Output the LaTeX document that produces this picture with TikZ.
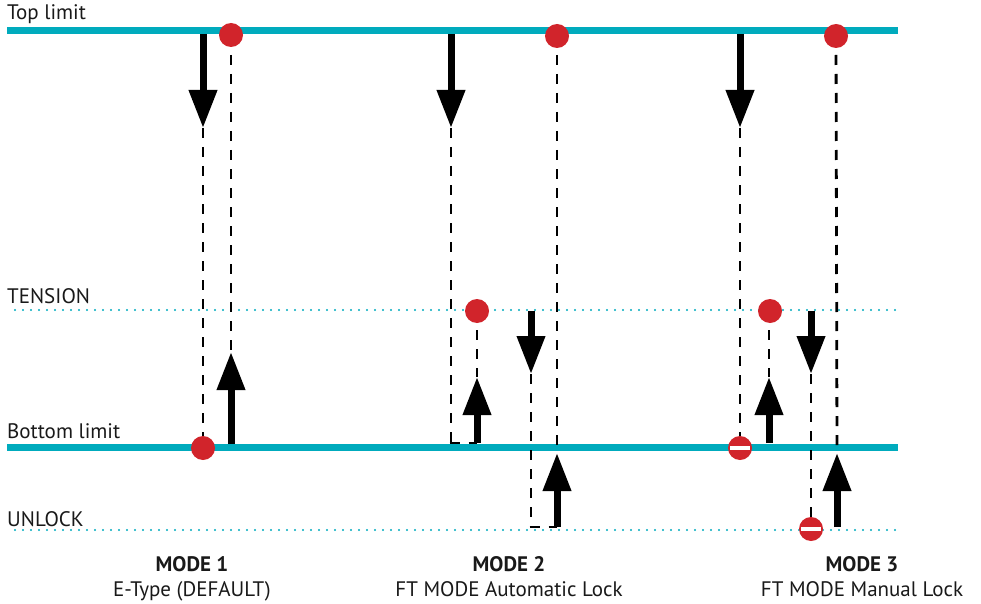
\documentclass[tikz,border=0pt]{standalone}
\usepackage{fontspec}
\setmainfont{PT Sans}
\usetikzlibrary{arrows.meta}
\definecolor{railc}{RGB}{0,171,189}
\definecolor{dotred}{RGB}{209,36,43}
\begin{document}
\begin{tikzpicture}[x=1pt,y=-1pt,
  limit/.style={railc, line width=7pt},
  level/.style={railc, line width=2.4pt, line cap=round, dash pattern=on 0pt off 8pt},
  guide/.style={black, line width=2.8pt, dash pattern=on 10pt off 9pt},
  move/.style={black, line width=7pt, -{Triangle[length=38pt,width=27pt]}},
  stopdot/.style={circle, fill=dotred, minimum size=24pt, inner sep=0pt},
  blocked/.style={stopdot, path picture={\fill[white] ([xshift=-10pt,yshift=-2pt]path picture bounding box.center) rectangle ++(20pt,4pt);}},
  lbl/.style={anchor=base west, inner sep=0pt, font=\fontsize{21}{24}\selectfont, text=black!90},
  mode/.style={anchor=base, inner sep=0pt, font=\fontsize{21}{24}\selectfont\bfseries, text=black!90},
  sub/.style={anchor=base, inner sep=0pt, font=\fontsize{21}{24}\selectfont, text=black!90},
]
\useasboundingbox (0,0) rectangle (981,604);

% level lines
\coordinate (topL) at (7,31);   \coordinate (topR) at (898,31);
\coordinate (botL) at (7,447);  \coordinate (botR) at (898,447);
\coordinate (tenL) at (15,310); \coordinate (tenR) at (898,310);
\coordinate (unlL) at (15,530); \coordinate (unlR) at (898,530);
\draw[limit] (topL) -- (topR);
\draw[limit] (botL) -- (botR);
\draw[level] (tenL) -- (tenR);
\draw[level] (unlL) -- (unlR);

\node[lbl] (tTop) at (7,20) {Top limit};
\node[lbl] (tTen) at (7,303) {TENSION};
\node[lbl] (tBot) at (7,438) {Bottom limit};
\node[lbl] (tUnl) at (7,526) {UNLOCK};

% ---------- MODE 1
\coordinate (m1a0) at (203,34);  \coordinate (m1a1) at (203,128);
\coordinate (m1b0) at (231,444); \coordinate (m1b1) at (231,352);
\draw[guide] (231,36) -- (m1b1);
\draw[guide] (m1a1) -- (203,447);
\draw[move] (m1a0) -- (m1a1);
\draw[move] (m1b0) -- (m1b1);
\node[stopdot] (m1top) at (231,35) {};
\node[stopdot] (m1bot) at (203,448) {};

% ---------- MODE 2
\coordinate (m2a0) at (451,34);  \coordinate (m2a1) at (451,128);
\coordinate (m2b0) at (477,443); \coordinate (m2b1) at (477,377);
\coordinate (m2c0) at (531,311); \coordinate (m2c1) at (531,374);
\coordinate (m2d0) at (557,527); \coordinate (m2d1) at (557,453);
\coordinate (m2k1) at (451,443); \coordinate (m2k2) at (531,527);
\draw[guide] (557,36) -- (m2d1);
\draw[guide] (m2a1) -- (m2k1);
\draw[guide] ([xshift=-1.4pt]m2k1) -- (m2b0);
\draw[guide] (477,311) -- (m2b1);
\draw[guide] (m2c1) -- (m2k2);
\draw[guide] ([xshift=-1.4pt]m2k2) -- (m2d0);
\draw[move] (m2a0) -- (m2a1);
\draw[move] (m2b0) -- (m2b1);
\draw[move] (m2c0) -- (m2c1);
\draw[move] (m2d0) -- (m2d1);
\node[stopdot] (m2top) at (557,36) {};
\node[stopdot] (m2ten) at (477,311) {};

% ---------- MODE 3
\coordinate (m3a0) at (740,34);  \coordinate (m3a1) at (740,128);
\coordinate (m3b0) at (769,443); \coordinate (m3b1) at (769,377);
\coordinate (m3c0) at (811,311); \coordinate (m3c1) at (811,374);
\coordinate (m3d0) at (837,527); \coordinate (m3d1) at (837,453);
\draw[guide] (836,36) -- (m3d1);
\draw[guide] (m3a1) -- (740,447);
\draw[guide] (769,311) -- (m3b1);
\draw[guide] (m3c1) -- (811,529);
\draw[move] (m3a0) -- (m3a1);
\draw[move] (m3b0) -- (m3b1);
\draw[move] (m3c0) -- (m3c1);
\draw[move] (m3d0) -- (m3d1);
\node[stopdot] (m3top) at (836,36) {};
\node[stopdot] (m3ten) at (770,311) {};
\node[blocked] (m3bot) at (740,448) {};
\node[blocked] (m3unl) at (811,529) {};

% mode captions
\node[mode] (md1) at (192,571) {MODE 1};
\node[sub]  (sb1) at (192,596) {E-Type (DEFAULT)};
\node[mode] (md2) at (509,571) {MODE 2};
\node[sub]  (sb2) at (509,596) {FT MODE Automatic Lock};
\node[mode] (md3) at (862,571) {MODE 3};
\node[sub]  (sb3) at (862,596) {FT MODE Manual Lock};
\end{tikzpicture}
\end{document}
